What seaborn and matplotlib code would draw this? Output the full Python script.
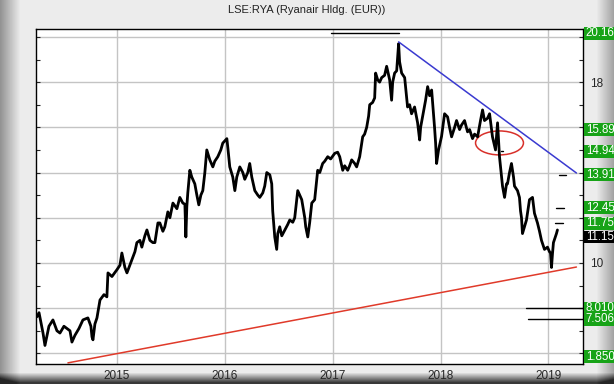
import numpy as np
import pandas as pd
import seaborn as sns
import matplotlib.pyplot as plt
from matplotlib.patches import Ellipse, Rectangle
from matplotlib.ticker import MultipleLocator, FixedLocator

# price path (fractional year, EUR)
dates = [
    2014.259, 2014.278, 2014.315, 2014.333, 2014.370, 2014.407, 2014.444, 2014.472, 2014.509,
    2014.565, 2014.583, 2014.611, 2014.648, 2014.685, 2014.731, 2014.759, 2014.769, 2014.778,
    2014.796, 2014.815, 2014.843, 2014.880, 2014.907, 2014.917, 2014.954, 2015.000, 2015.028,
    2015.046, 2015.074, 2015.093, 2015.120, 2015.139, 2015.167, 2015.185, 2015.213, 2015.231,
    2015.259, 2015.278, 2015.306, 2015.333, 2015.352, 2015.380, 2015.398, 2015.426, 2015.444,
    2015.472, 2015.491, 2015.519, 2015.556, 2015.583, 2015.611, 2015.630, 2015.639, 2015.648,
    2015.657, 2015.676, 2015.694, 2015.722, 2015.741, 2015.759, 2015.778, 2015.796, 2015.815,
    2015.833, 2015.861, 2015.889, 2015.907, 2015.935, 2015.963, 2015.981, 2016.019, 2016.028,
    2016.046, 2016.074, 2016.093, 2016.111, 2016.139, 2016.167, 2016.185, 2016.213, 2016.231,
    2016.250, 2016.278, 2016.306, 2016.324, 2016.352, 2016.370, 2016.389, 2016.417, 2016.435,
    2016.444, 2016.463, 2016.481, 2016.491, 2016.509, 2016.528, 2016.556, 2016.583, 2016.602,
    2016.630, 2016.648, 2016.676, 2016.694, 2016.713, 2016.741, 2016.750, 2016.769, 2016.787,
    2016.806, 2016.833, 2016.861, 2016.880, 2016.907, 2016.926, 2016.954, 2016.981, 2017.019,
    2017.046, 2017.065, 2017.093, 2017.111, 2017.139, 2017.157, 2017.176, 2017.204, 2017.222,
    2017.250, 2017.278, 2017.296, 2017.315, 2017.333, 2017.343, 2017.370, 2017.389, 2017.398,
    2017.417, 2017.435, 2017.454, 2017.481, 2017.500, 2017.528, 2017.546, 2017.556, 2017.574,
    2017.593, 2017.611, 2017.620, 2017.639, 2017.667, 2017.694, 2017.713, 2017.731, 2017.759,
    2017.787, 2017.806, 2017.815, 2017.833, 2017.861, 2017.880, 2017.898, 2017.917, 2017.926,
    2017.944, 2017.954, 2017.963, 2017.981, 2018.009, 2018.037, 2018.065, 2018.083, 2018.102,
    2018.130, 2018.148, 2018.176, 2018.194, 2018.222, 2018.250, 2018.269, 2018.296, 2018.315,
    2018.343, 2018.370, 2018.389, 2018.407, 2018.435, 2018.454, 2018.481, 2018.509, 2018.528,
    2018.546, 2018.556, 2018.574, 2018.593, 2018.611, 2018.620, 2018.639, 2018.657, 2018.676,
    2018.685, 2018.713, 2018.731, 2018.741, 2018.750, 2018.759, 2018.778, 2018.796, 2018.824,
    2018.852, 2018.870, 2018.898, 2018.917, 2018.935, 2018.963, 2018.991, 2019.009, 2019.019,
    2019.028, 2019.037, 2019.046, 2019.074, 2019.083,
]
prices = [
    7.62, 7.80, 6.90, 6.35, 7.20, 7.48, 7.00, 6.90, 7.20,
    7.00, 6.50, 6.80, 7.10, 7.48, 7.57, 7.20, 6.73, 6.60,
    7.30, 7.57, 8.36, 8.60, 8.50, 9.56, 9.40, 9.70, 9.90,
    10.44, 9.80, 9.56, 9.90, 10.13, 10.50, 10.90, 11.00, 10.70,
    11.20, 11.46, 11.00, 10.90, 10.90, 11.77, 11.77, 11.40, 11.60,
    12.26, 12.00, 12.65, 12.40, 12.90, 12.65, 12.60, 11.15, 12.50,
    13.10, 14.10, 13.80, 13.50, 13.00, 12.57, 13.00, 13.20, 14.00,
    15.00, 14.56, 14.25, 14.50, 14.70, 15.00, 15.30, 15.50, 15.10,
    14.25, 13.80, 13.20, 13.80, 14.25, 14.00, 13.70, 14.00, 14.40,
    13.80, 13.20, 13.00, 12.90, 13.10, 13.40, 14.00, 13.90, 13.50,
    12.30, 11.15, 10.60, 11.30, 11.60, 11.20, 11.46, 11.70, 11.90,
    11.80, 12.00, 13.20, 13.00, 12.80, 12.00, 11.60, 11.15, 11.80,
    12.65, 12.80, 14.10, 14.00, 14.40, 14.50, 14.70, 14.60, 14.85,
    14.90, 14.70, 14.10, 14.30, 14.10, 14.30, 14.56, 14.40, 14.25,
    14.70, 15.58, 15.70, 16.00, 16.50, 17.00, 17.10, 17.30, 18.40,
    18.10, 18.00, 18.20, 18.30, 18.70, 18.10, 17.20, 18.00, 18.40,
    18.50, 19.70, 18.90, 18.40, 18.20, 16.90, 17.00, 16.60, 16.90,
    16.20, 15.44, 16.00, 16.46, 17.20, 17.80, 17.40, 17.65, 17.10,
    16.00, 15.30, 14.40, 15.00, 15.60, 16.60, 16.46, 16.00, 15.58,
    16.00, 16.30, 15.90, 16.10, 16.30, 15.80, 15.90, 15.50, 15.70,
    15.58, 16.30, 16.77, 16.30, 16.40, 16.60, 15.58, 15.00, 16.20,
    14.70, 14.25, 13.40, 12.90, 13.50, 13.50, 14.00, 14.40, 13.80,
    13.40, 13.20, 12.90, 12.30, 12.00, 11.30, 11.60, 11.90, 12.80,
    12.90, 12.20, 11.77, 11.40, 11.00, 10.60, 10.70, 10.50, 10.44,
    9.80, 10.40, 10.90, 11.30, 11.46,
]

# trend lines
blue_trend_x = [2017.611, 2019.259]
blue_trend_y = [19.78, 13.98]
red_trend_x = [2014.546, 2019.259]
red_trend_y = [5.58, 9.82]

# price levels on the right-hand scale
level_values = [20.16, 15.89, 14.94, 13.91, 12.45, 11.75, 11.15, 8.010, 7.506, 1.850]
level_texts = ['20.16', '15.89', '14.94', '13.91', '12.45', '11.75', '11.15', '8.010', '7.506', '1.850']
level_colors = ['#17a317'] * 6 + ['black'] + ['#17a317'] * 3

# short target marks
mark_values = [20.16, 14.94, 13.91, 12.45, 11.75, 8.010, 7.506]
mark_starts = [2016.98, 2018.556, 2019.093, 2019.074, 2019.065, 2018.796, 2018.806]
mark_ends = [2017.61, 2018.583, 2019.167, 2019.148, 2019.130, 2019.32, 2019.32]

years = [2015, 2016, 2017, 2018, 2019]

x_min, x_max = 2014.25, 2019.32
y_min, y_max = 5.53, 20.35

df = pd.DataFrame({'date': dates, 'price': prices})

sns.set_style('white')
plt.rcParams['font.family'] = ['Liberation Sans', 'DejaVu Sans']

fig = plt.figure(figsize=(6.14, 3.84), dpi=100)

# grey frame with shaded edges
H, W = 384, 614
shade = np.full((H, W), 0.925)
xx = np.arange(W)[None, :]
yy = np.arange(H)[:, None]
shade = shade - 0.35 * np.clip(1 - xx / 20.0, 0, 1)
shade = shade - 0.30 * np.clip((xx - 596) / 18.0, 0, 1)
shade = shade - 0.70 * np.clip((yy - 372) / 10.0, 0, 1)
shade = np.clip(shade, 0.15, 1)
bg = fig.add_axes([0, 0, 1, 1], zorder=-10)
bg.imshow(shade, cmap='gray', vmin=0, vmax=1, aspect='auto', interpolation='bilinear')
bg.axis('off')

ax = fig.add_axes([36 / 614, 20 / 384, 547 / 614, 335 / 384])
ax.set_facecolor('white')

sns.lineplot(data=df, x='date', y='price', color='black', linewidth=2.0,
             sort=False, estimator=None, ax=ax, legend=False)

ax.plot(blue_trend_x, blue_trend_y, color='#3a3ad0', linewidth=1.1)
ax.plot(red_trend_x, red_trend_y, color='#e03a2a', linewidth=1.1)
ax.add_patch(Ellipse((2018.546, 15.31), 0.444, 1.06, fill=False,
                     edgecolor='#d8302a', linewidth=1.1))

for v, s, e in zip(mark_values, mark_starts, mark_ends):
    ax.plot([s, e], [v, v], color='black', linewidth=1.0)

ax.set_xlim(x_min, x_max)
ax.set_ylim(y_min, y_max)

ax.xaxis.set_major_locator(FixedLocator(years))
ax.set_xticklabels([str(y) for y in years])
ax.yaxis.set_major_locator(MultipleLocator(2))
ax.yaxis.set_minor_locator(MultipleLocator(1))
ax.yaxis.set_major_formatter(plt.FuncFormatter(lambda v, p: f'{v:.0f}' if v in (10, 18) else ''))
ax.yaxis.tick_right()
ax.tick_params(axis='y', which='both', direction='in', length=3, left=True, right=True,
               labelsize=8.5, pad=5, width=0.8)
ax.tick_params(axis='x', length=0, labelsize=8.5, pad=4)
ax.grid(True, which='major', color='#c4c4c4', linewidth=1.0)
ax.set_xlabel('')
ax.set_ylabel('')
for sp in ax.spines.values():
    sp.set_color('black')
    sp.set_linewidth(1.0)

# boxed level labels on the right, boxes run to the frame edge
box_h = 0.56
for v, t, c in zip(level_values, level_texts, level_colors):
    yv = min(max(v, y_min + 0.32), y_max)
    ax.add_patch(Rectangle((1.002, yv - box_h / 2), 0.06, box_h,
                           transform=ax.get_yaxis_transform(), facecolor=c,
                           edgecolor='none', clip_on=False, zorder=5))
    ax.text(1.005, yv, t, transform=ax.get_yaxis_transform(), ha='left', va='center',
            fontsize=8.3, color='white', clip_on=False, zorder=6)

fig.text(0.5, 1 - 10 / 384, 'LSE:RYA (Ryanair Hldg. (EUR))', ha='center', va='center',
         fontsize=8, color='#222222')

fig.savefig('out.png', dpi=100)
